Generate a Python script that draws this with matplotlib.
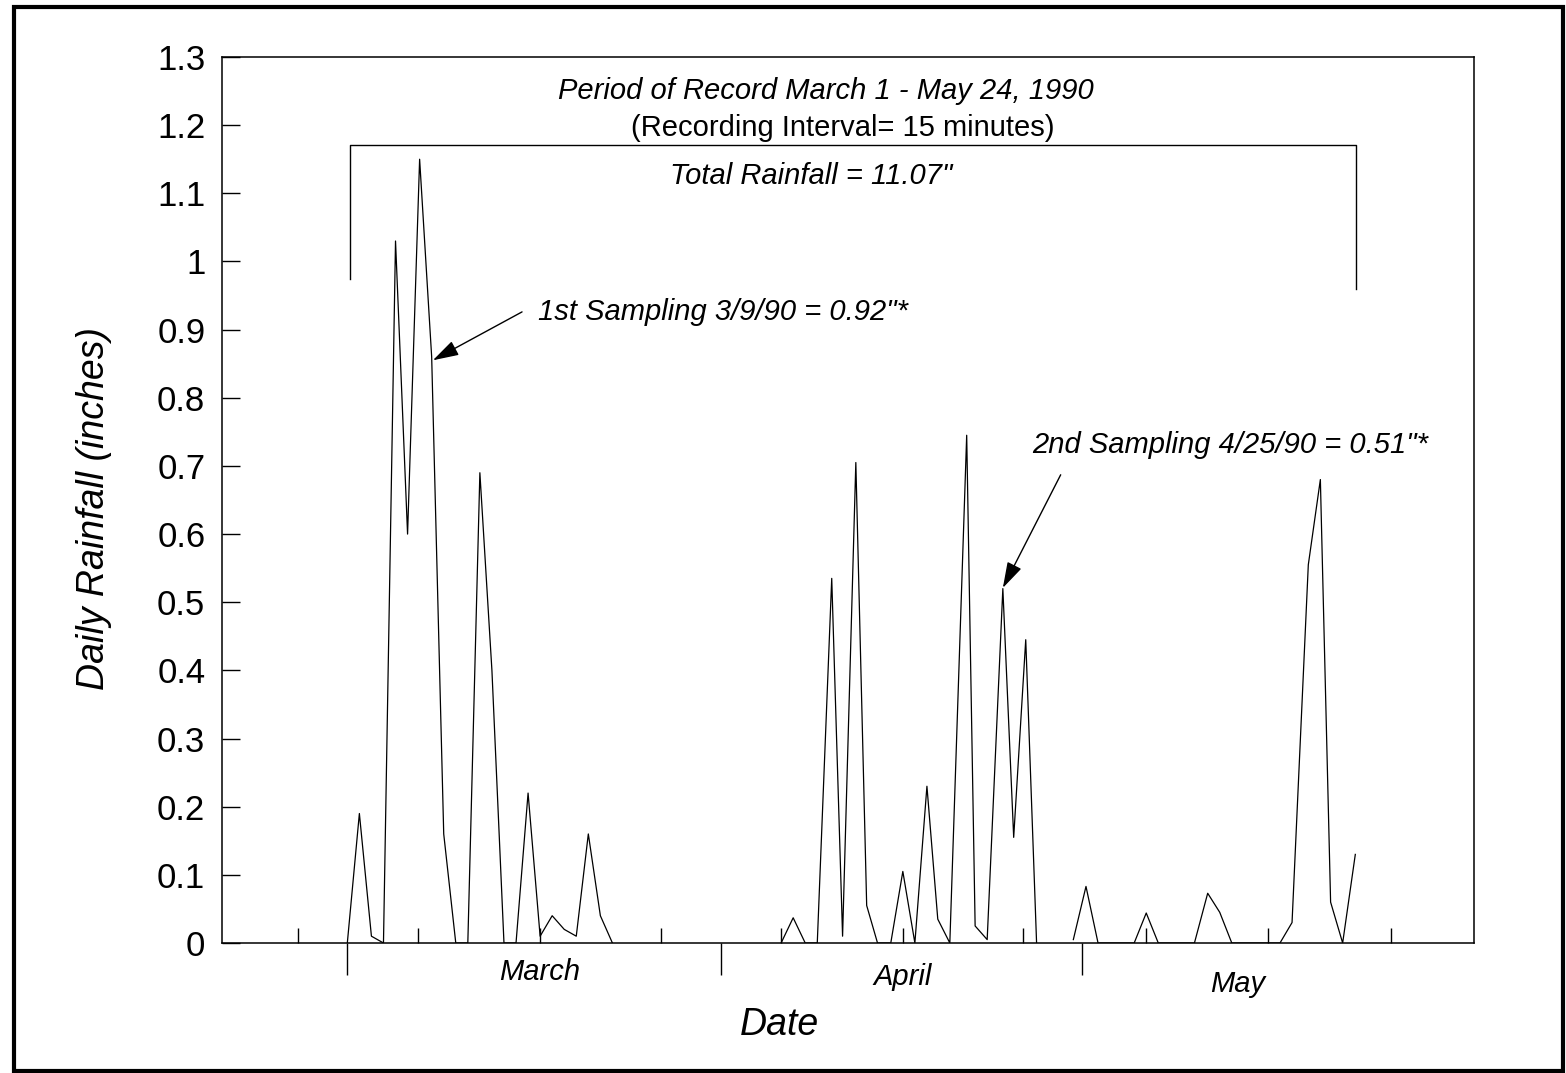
import matplotlib
matplotlib.use('Agg')
import matplotlib.pyplot as plt
from matplotlib.patches import Rectangle
from matplotlib.transforms import blended_transform_factory

# days counted from March 1, 1990 (= day 0)
march_day = [0, 1, 2, 3, 4, 5, 6, 7, 8, 9, 10, 11, 12, 13, 14, 15, 16, 17, 18, 19, 20, 21, 22]
march_rain = [0, 0.19, 0.01, 0, 1.03, 0.60, 1.15, 0.86, 0.16, 0, 0, 0.69, 0.40, 0, 0,
              0.22, 0.01, 0.04, 0.02, 0.01, 0.16, 0.04, 0]

april_day = [36.0, 37.0, 38.0, 39.0, 40.2, 41.1, 42.2, 43.1, 44.0, 45.1, 46.1, 47.1, 48.1,
             49.0, 50.0, 51.4, 52.1, 53.1, 54.4, 55.3, 56.3, 57.2]
april_rain = [0, 0.037, 0, 0, 0.535, 0.01, 0.705, 0.055, 0, 0, 0.105, 0, 0.23, 0.035, 0,
              0.745, 0.025, 0.005, 0.52, 0.155, 0.445, 0]

may_day = [60.25, 61.3, 62.3, 65.3, 66.3, 67.3, 70.3, 71.4, 72.4, 73.4, 77.4, 78.4, 79.75,
           80.75, 81.6, 82.6, 83.65]
may_rain = [0.005, 0.083, 0, 0, 0.044, 0, 0, 0.073, 0.045, 0, 0, 0.03, 0.555, 0.68, 0.06, 0, 0.13]

month_names = ['March', 'April', 'May']
month_start = [0, 31, 61]
month_label_x = [16, 46.1, 73.9]
ten_day_ticks = [-4.1, 5.9, 16, 26, 36, 46.1, 56.1, 66.3, 76.4, 86.6]

yticks = [0, 0.1, 0.2, 0.3, 0.4, 0.5, 0.6, 0.7, 0.8, 0.9, 1.0, 1.1, 1.2, 1.3]
ytick_labels = ['0', '0.1', '0.2', '0.3', '0.4', '0.5', '0.6', '0.7', '0.8', '0.9',
                '1', '1.1', '1.2', '1.3']

plt.rcParams['font.family'] = ['Liberation Sans', 'DejaVu Sans']

fig = plt.figure(figsize=(15.66, 10.73), dpi=100)
ax = fig.add_axes([222 / 1566, 130 / 1073, 1252 / 1566, 886 / 1073])

for d, r in [(march_day, march_rain), (april_day, april_rain), (may_day, may_rain)]:
    ax.plot(d, r, color='black', lw=0.9)

ax.set_xlim(-10.4, 93.5)
ax.set_ylim(0, 1.3)

for s in ax.spines.values():
    s.set_linewidth(1.1)

ax.set_yticks(yticks)
ax.set_yticklabels(ytick_labels, fontsize=25)
ax.tick_params(axis='y', direction='in', length=13, width=1, pad=12)

ax.set_xticks(month_start)
ax.set_xticklabels([])
ax.tick_params(axis='x', which='major', direction='out', length=23, width=1)
ax.set_xticks(ten_day_ticks, minor=True)
ax.tick_params(axis='x', which='minor', direction='in', length=11, width=1)

trans = blended_transform_factory(ax.transData, ax.transAxes)
for name, x, y in zip(month_names, month_label_x, [-0.033, -0.038, -0.046]):
    ax.text(x, y, name, transform=trans, ha='center', va='center',
            fontsize=21, style='italic')

ax.set_ylabel('Daily Rainfall (inches)', fontsize=27, style='italic')
ax.yaxis.set_label_coords(-0.088, 0.49)
ax.text(35.9, -0.093, 'Date', transform=trans, ha='center', va='center',
        fontsize=27, style='italic')

# record bracket and notes
ax.plot([0.25, 0.25, 83.7, 83.7], [0.975, 1.171, 1.171, 0.96], color='black', lw=1)
ax.text(39.75, 1.250, 'Period of Record March 1 - May 24, 1990', ha='center', va='center',
        fontsize=21, style='italic')
ax.text(41.1, 1.196, '(Recording Interval= 15 minutes)', ha='center', va='center', fontsize=21)
ax.text(38.5, 1.125, 'Total Rainfall = 11.07"', ha='center', va='center',
        fontsize=21, style='italic')

arrow = dict(arrowstyle='-|>,head_length=1.0,head_width=0.3', mutation_scale=16,
             color='black', lw=1, shrinkA=0, shrinkB=0)
ax.annotate('', xy=(7.1, 0.855), xytext=(14.5, 0.926), arrowprops=arrow)
ax.text(15.8, 0.926, '1st Sampling 3/9/90 = 0.92"*', ha='left', va='center',
        fontsize=21, style='italic')
ax.annotate('', xy=(54.4, 0.521), xytext=(59.2, 0.687), arrowprops=arrow)
ax.text(56.85, 0.731, '2nd Sampling 4/25/90 = 0.51"*', ha='left', va='center',
        fontsize=21, style='italic')

fig.patches.append(Rectangle((14 / 1566, 2 / 1073), 1549 / 1566, 1064 / 1073,
                             transform=fig.transFigure, fill=False, lw=3, ec='black'))

fig.savefig('out.png', dpi=100)
